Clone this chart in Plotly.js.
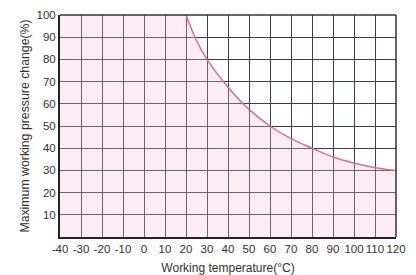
<!DOCTYPE html>
<html>
<head>
<meta charset="utf-8">
<script src="https://cdn.plot.ly/plotly-3.0.1.min.js"></script>
<style>html,body{margin:0;padding:0;background:#fff;}#chart{width:416px;height:275px;}</style>
</head>
<body>
<div id="chart"></div>
<script>
// Data
const flatTemps = [-40, 20];
const flatValues = [100, 100];
const curveTemps = [20, 25, 30, 40, 50, 60, 70, 80, 90, 100, 110, 120];
const curveValues = [100, 88.5, 80, 67.5, 57.5, 50, 44.3, 40, 36, 33.3, 31.2, 30];
const xTickVals = [-40, -30, -20, -10, 0, 10, 20, 30, 40, 50, 60, 70, 80, 90, 100, 110, 120];
const xTickText = ['-40', '-30', '-20', '-10', '0', '10', '20', '30', '40', '50', '60', '70', '80', '90', '100', '110', '120'];
const yTickVals = [10, 20, 30, 40, 50, 60, 70, 80, 90, 100];
const yTickText = ['10', '20', '30', '40', '50', '60', '70', '80', '90', '100'];

const fillColor = 'rgba(245,185,212,0.28)';
const traces = [
  {x: flatTemps, y: flatValues, type: 'scatter', mode: 'lines', fill: 'tozeroy',
   fillcolor: fillColor, line: {width: 0}, hoverinfo: 'skip'},
  {x: curveTemps, y: curveValues, type: 'scatter', mode: 'lines', fill: 'tozeroy',
   fillcolor: fillColor, line: {color: 'rgb(214,112,145)', width: 1.5, shape: 'spline', smoothing: 1}}
];

const fam = 'Liberation Sans, Arial, sans-serif';
const layout = {
  width: 416, height: 275,
  margin: {l: 60, r: 20, t: 15, b: 38},
  paper_bgcolor: '#fff', plot_bgcolor: '#fff',
  showlegend: false,
  font: {family: fam, size: 11.5, color: '#333'},
  xaxis: {
    range: [-40, 120], tickvals: xTickVals, ticktext: xTickText,
    showgrid: true, gridcolor: '#4a3c46', gridwidth: 1,
    showline: true, linecolor: '#222', linewidth: 2,
    zeroline: false, ticks: '', automargin: false,
    tickfont: {family: fam, size: 11.5, color: '#333'},
    title: {text: 'Working temperature(°C)', font: {family: fam, size: 12, color: '#333'}, standoff: 11}
  },
  yaxis: {
    range: [0, 100], tickvals: yTickVals, ticktext: yTickText,
    showgrid: true, gridcolor: '#4a3c46', gridwidth: 1,
    showline: true, linecolor: '#222', linewidth: 2,
    zeroline: false, ticks: '', automargin: false,
    tickfont: {family: fam, size: 11.5, color: '#333'},
    title: {text: 'Maximum working pressure change(%)', font: {family: fam, size: 12.3, color: '#333'}, standoff: 4}
  },
  shapes: [
    {type: 'line', xref: 'paper', yref: 'paper', x0: 0, x1: 1, y0: 1, y1: 1, line: {color: '#333', width: 1.5}},
    {type: 'line', xref: 'paper', yref: 'paper', x0: 1, x1: 1, y0: 0, y1: 1, line: {color: '#333', width: 1.5}}
  ]
};

Plotly.newPlot('chart', traces, layout, {displayModeBar: false, staticPlot: true});
</script>
</body>
</html>
